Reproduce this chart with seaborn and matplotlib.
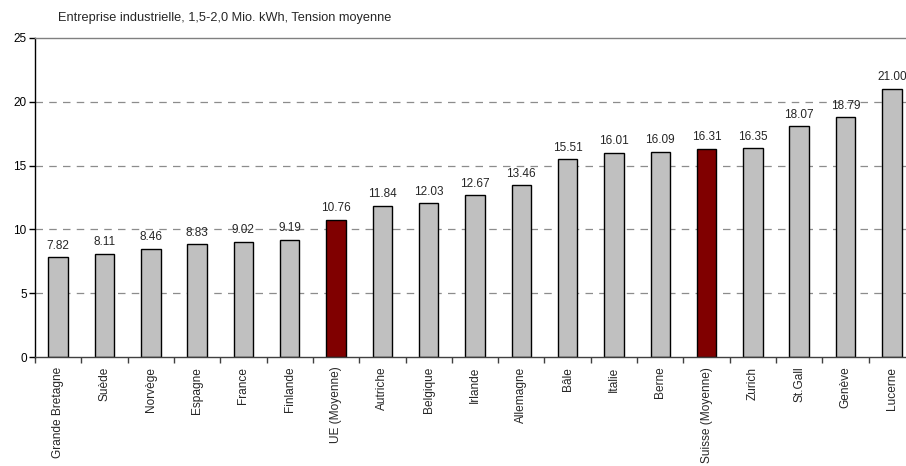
import matplotlib
matplotlib.use("Agg")
import matplotlib.pyplot as plt
import seaborn as sns
import numpy as np

categories = ["Grande Bretagne", "Suède", "Norvège", "Espagne", "France", "Finlande",
              "UE (Moyenne)", "Autriche", "Belgique", "Irlande", "Allemagne", "Bâle",
              "Italie", "Berne", "Suisse (Moyenne)", "Zurich", "St.Gall", "Genève", "Lucerne"]
values = [7.82, 8.11, 8.46, 8.83, 9.02, 9.19, 10.76, 11.84, 12.03, 12.67, 13.46, 15.51,
          16.01, 16.09, 16.31, 16.35, 18.07, 18.79, 21.00]
highlight = ["UE (Moyenne)", "Suisse (Moyenne)"]
title = "Entreprise industrielle, 1,5-2,0 Mio. kWh, Tension moyenne"

sns.set_style("white")
plt.rcParams["font.family"] = ["Liberation Sans", "DejaVu Sans"]

fig = plt.figure(figsize=(9.06, 4.66), dpi=100)
ax = fig.add_axes([35 / 906, 1 - 357 / 466, (915 - 35) / 906, (357 - 38) / 466])

palette = {c: ("#800000" if c in highlight else "#C0C0C0") for c in categories}
sns.barplot(x=categories, y=values, hue=categories, palette=palette, legend=False,
            width=0.42, edgecolor="black", linewidth=1.0, saturation=1, ax=ax)

ax.set_xlim(-0.5, len(categories) - 0.5)
ax.set_ylim(0, 25)
ax.set_yticks([0, 5, 10, 15, 20, 25])
ax.tick_params(axis="y", labelsize=8.5, length=4, width=1, direction="out", left=True, pad=2, colors="black")

for y in [5, 10, 15, 20]:
    ax.axhline(y, color="#8c8c8c", lw=0.9, ls=(0, (6, 5)), zorder=0)

ax.set_xticks(range(len(categories)))
ax.set_xticklabels(categories, rotation=90, fontsize=8.6)
ax.tick_params(axis="x", which="major", length=0, pad=7)
ax.set_xticks(np.arange(-0.5, len(categories), 1.0), minor=True)
ax.tick_params(axis="x", which="minor", length=4, width=1, direction="out", bottom=True, color="#404040")

for i, v in enumerate(values):
    ax.annotate(f"{v:.2f}", (i, v), xytext=(0, 4), textcoords="offset points",
                ha="center", va="bottom", fontsize=8.5)

ax.spines["right"].set_visible(False)
ax.spines["top"].set_color("#808080")
ax.spines["top"].set_linewidth(1)
ax.spines["left"].set_color("black")
ax.spines["left"].set_linewidth(1)
ax.spines["bottom"].set_color("#404040")
ax.spines["bottom"].set_linewidth(1)

ax.set_xlabel("")
ax.set_ylabel("")
fig.text(58 / 906, 1 - 18 / 466, title, fontsize=9.2, ha="left", va="center")

fig.savefig("out.png", dpi=100)
